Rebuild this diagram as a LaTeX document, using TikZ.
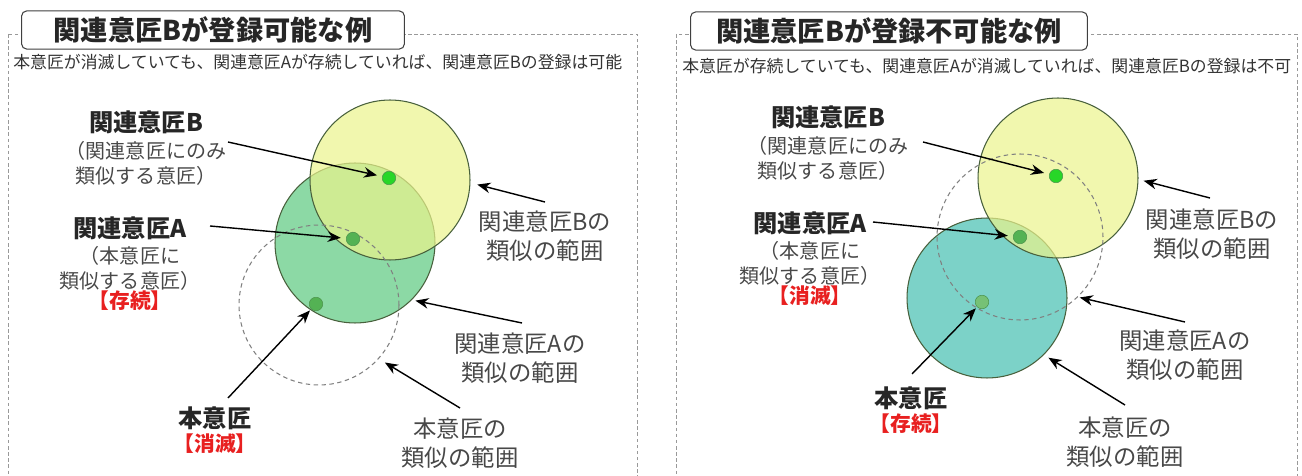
\documentclass[tikz,border=0pt]{standalone}
\usepackage{fontspec}
\setmainfont{Noto Sans CJK JP}
\usepackage{tikz}
\usetikzlibrary{shapes,arrows.meta}
\usetikzlibrary{positioning}
\definecolor{rangeyellow}{RGB}{235,244,140}
\definecolor{rangegreen}{RGB}{140,217,165}
\definecolor{rangeteal}{RGB}{124,210,200}
\definecolor{rimgreen}{RGB}{72,96,60}
\definecolor{dotbright}{RGB}{40,214,40}
\definecolor{dotdark}{RGB}{84,178,84}
\definecolor{notegray}{RGB}{72,72,72}
\definecolor{statusred}{RGB}{232,32,32}
\tikzstyle{arrow} = [thick,-{Stealth[length=7.5pt,width=6pt]}]
\tikzstyle{panelbox} = [draw=gray!80, dash pattern=on 2pt off 1.5pt, thin]
\tikzstyle{headingbox} = [
    rectangle, rounded corners=3pt, draw=black!75, fill=white, line width=0.6pt,
    minimum height=0.72cm, text=black!85, font=\fontsize{15.5}{18}\selectfont\bfseries]
\tikzstyle{leadtext} = [anchor=west, inner sep=0pt, text=black!80, font=\fontsize{9.6}{11}\selectfont]
\tikzstyle{rangezone} = [circle, minimum size=3.2cm, inner sep=0pt, draw=rimgreen, line width=0.6pt]
\tikzstyle{gonezone} = [circle, inner sep=0pt, draw=gray, dash pattern=on 2.5pt off 2pt, line width=0.6pt]
\tikzstyle{dotmark} = [circle, minimum size=0.27cm, inner sep=0pt, draw=green!40!black!70, line width=0.3pt]
\tikzstyle{designtext} = [inner sep=0pt, text=black!85, font=\fontsize{13.8}{16}\selectfont\bfseries]
\tikzstyle{notetext} = [inner sep=0pt, align=center, text=notegray, font=\fontsize{11.4}{14}\selectfont]
\tikzstyle{statustext} = [inner sep=0pt, text=statusred, font=\fontsize{11.8}{14}\selectfont\bfseries]
\tikzstyle{captiontext} = [inner sep=0pt, align=center, text=notegray, font=\fontsize{13.3}{16.2}\selectfont]
\begin{document}
\begin{tikzpicture}[x=0.02cm, y=-0.02cm]
\useasboundingbox (0,0) rectangle (1302,476);
\clip (0,0) rectangle (1302,476);

% ---- left: B can be registered
\draw [panelbox] (8,34) rectangle (637,520);
\node (pos-title) [headingbox, minimum width=7.66cm] at (213,30) {関連意匠Bが登録可能な例};
\node (pos-lead) [leadtext] at (13,62) {本意匠が消滅していても、関連意匠Aが存続していれば、関連意匠Bの登録は可能};

\node (pos-range-a) [rangezone, fill=rangegreen] at (355,243) {};
\node (pos-range-b) [rangezone, fill=rangeyellow, fill opacity=0.7] at (390,180) {};
\node (pos-range-main) [gonezone, minimum size=3.2cm] at (319,305) {};
\node (pos-dot-b) [dotmark, fill=dotbright] at (389,178) {};
\node (pos-dot-a) [dotmark, fill=dotdark] at (353,239) {};
\node (pos-dot-main) [dotmark, fill=dotdark] at (316,304) {};

\node (pos-label-b) [designtext] at (146,122) {関連意匠B};
\node (pos-note-b) [notetext, below=4pt of pos-label-b] {（関連意匠にのみ\\類似する意匠）};
\node (pos-label-a) [designtext] at (130,228) {関連意匠A};
\node (pos-note-a) [notetext, below=3.7pt of pos-label-a] {（本意匠に\\類似する意匠）};
\node (pos-state-a) [statustext, below=0pt of pos-note-a] {【存続】};
\node (pos-label-main) [designtext] at (215,418) {本意匠};
\node (pos-state-main) [statustext, below=2pt of pos-label-main] {【消滅】};

\node (pos-caption-b) [captiontext] at (545,236) {関連意匠Bの\\類似の範囲};
\node (pos-caption-a) [captiontext] at (520,358) {関連意匠Aの\\類似の範囲};
\node (pos-caption-main) [captiontext] at (460,443) {本意匠の\\類似の範囲};

\coordinate (pos-from-b) at (228,142);
\coordinate (pos-from-a) at (210,226);
\coordinate (pos-from-main) at (228,398);
\coordinate (pos-from-range-b) at (545,202);
\coordinate (pos-from-range-a) at (522,323);
\coordinate (pos-from-range-main) at (460,408);

\draw [arrow, shorten >=3pt] (pos-from-b) -- (pos-dot-b);
\draw [arrow, shorten >=3pt] (pos-from-a) -- (pos-dot-a);
\draw [arrow, shorten >=1pt] (pos-from-main) -- (pos-dot-main);
\draw [arrow, shorten >=4pt] (pos-from-range-b) -- (pos-range-b.-2);
\draw [arrow, shorten >=2pt] (pos-from-range-a) -- (pos-range-a.-45);
\draw [arrow, shorten >=4pt] (pos-from-range-main) -- (pos-range-main.-42);

% ---- right: B cannot be registered
\draw [panelbox] (676,34) rectangle (1297,520);
\node (neg-title) [headingbox, minimum width=7.94cm] at (889,31) {関連意匠Bが登録不可能な例};
\node (neg-lead) [leadtext] at (682,66) {本意匠が存続していても、関連意匠Aが消滅していれば、関連意匠Bの登録は不可};

\node (neg-range-main) [rangezone, fill=rangeteal] at (987,298) {};
\node (neg-range-b) [rangezone, fill=rangeyellow, fill opacity=0.7] at (1058,178) {};
\node (neg-range-a) [gonezone, minimum size=3.32cm] at (1020,237) {};
\node (neg-dot-b) [dotmark, fill=dotbright] at (1056,176) {};
\node (neg-dot-a) [dotmark, fill=dotdark] at (1020,237) {};
\node (neg-dot-main) [dotmark, fill=dotdark!80!white] at (982,302) {};

\node (neg-label-b) [designtext] at (828,117) {関連意匠B};
\node (neg-note-b) [notetext, below=4pt of neg-label-b] {（関連意匠にのみ\\類似する意匠）};
\node (neg-label-a) [designtext] at (810,223) {関連意匠A};
\node (neg-note-a) [notetext, below=3.7pt of neg-label-a] {（本意匠に\\類似する意匠）};
\node (neg-state-a) [statustext, below=0pt of neg-note-a] {【消滅】};
\node (neg-label-main) [designtext] at (911,398) {本意匠};
\node (neg-state-main) [statustext, below=2pt of neg-label-main] {【存続】};

\node (neg-caption-b) [captiontext] at (1212,234) {関連意匠Bの\\類似の範囲};
\node (neg-caption-a) [captiontext] at (1185,355) {関連意匠Aの\\類似の範囲};
\node (neg-caption-main) [captiontext] at (1125,442) {本意匠の\\類似の範囲};

\coordinate (neg-from-b) at (923,142);
\coordinate (neg-from-a) at (873,222);
\coordinate (neg-from-main) at (912,374);
\coordinate (neg-from-range-b) at (1210,198);
\coordinate (neg-from-range-a) at (1185,322);
\coordinate (neg-from-range-main) at (1125,405);

\draw [arrow, shorten >=3pt] (neg-from-b) -- (neg-dot-b);
\draw [arrow, shorten >=3pt] (neg-from-a) -- (neg-dot-a);
\draw [arrow, shorten >=1pt] (neg-from-main) -- (neg-dot-main);
\draw [arrow, shorten >=3pt] (neg-from-range-b) -- (neg-range-b.-1);
\draw [arrow, shorten >=1pt] (neg-from-range-a) -- (neg-range-a.-46);
\draw [arrow, shorten >=3pt] (neg-from-range-main) -- (neg-range-main.-45);
\end{tikzpicture}
\end{document}
